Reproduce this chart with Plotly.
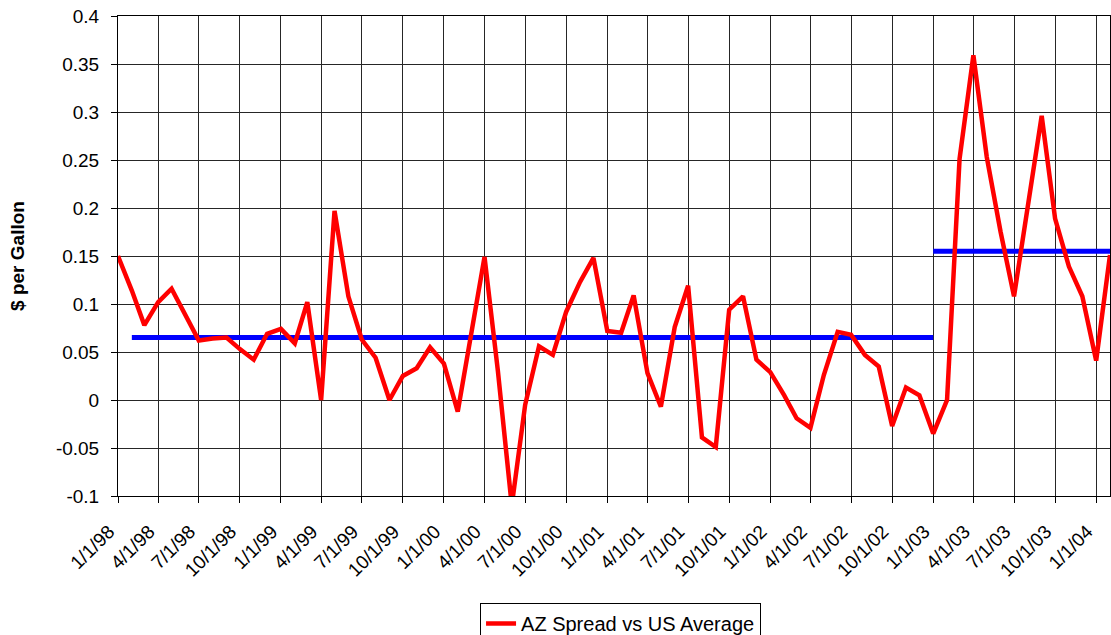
import plotly.graph_objects as go
import pandas as pd

# Monthly dates Jan 1998 .. Feb 2004
dates = pd.date_range("1998-01-01", "2004-02-01", freq="MS")

az_spread = [
    0.150, 0.114, 0.078, 0.102, 0.116, 0.089, 0.062, 0.064, 0.065, 0.053,
    0.042, 0.069, 0.074, 0.059, 0.102, 0.000, 0.197, 0.108, 0.063, 0.044,
    0.000, 0.025, 0.033, 0.055, 0.038, -0.012, 0.069, 0.149, 0.030, -0.110,
    -0.005, 0.056, 0.047, 0.092, 0.123, 0.148, 0.072, 0.070, 0.109, 0.028,
    -0.007, 0.076, 0.119, -0.039, -0.049, 0.094, 0.108, 0.042, 0.029, 0.005,
    -0.019, -0.029, 0.026, 0.071, 0.068, 0.047, 0.035, -0.027, 0.013, 0.005,
    -0.035, 0.000, 0.251, 0.359, 0.253, 0.175, 0.108, 0.200, 0.296, 0.189,
    0.139, 0.108, 0.041, 0.151,
]

avg1_dates = ["1998-02-01", "2003-01-01"]
avg1_vals = [0.065, 0.065]
avg2_dates = ["2003-01-01", "2004-02-01"]
avg2_vals = [0.155, 0.155]

x_tickvals = pd.date_range("1998-01-01", "2004-01-01", freq="QS")
x_ticktext = [f"{d.month}/1/{d.strftime('%y')}" for d in x_tickvals]

y_tickvals = [0.4, 0.35, 0.3, 0.25, 0.2, 0.15, 0.1, 0.05, 0, -0.05, -0.1]
y_ticktext = ["0.4", "0.35", "0.3", "0.25", "0.2", "0.15", "0.1", "0.05", "0", "-0.05", "-0.1"]

FONT = "Liberation Sans, Arial, sans-serif"
GRID = "#262626"

fig = go.Figure()
fig.add_trace(go.Scatter(
    x=avg1_dates, y=avg1_vals, mode="lines",
    line=dict(color="#0000FF", width=5), showlegend=False, hoverinfo="skip"))
fig.add_trace(go.Scatter(
    x=avg2_dates, y=avg2_vals, mode="lines",
    line=dict(color="#0000FF", width=5), showlegend=False, hoverinfo="skip"))
fig.add_trace(go.Scatter(
    x=dates, y=az_spread, mode="lines", name="AZ Spread vs US Average",
    line=dict(color="#FF0000", width=4.5)))

fig.update_layout(
    width=1111, height=635,
    margin=dict(l=118, r=1, t=16, b=139, autoexpand=False),
    paper_bgcolor="white", plot_bgcolor="white",
    font=dict(family=FONT, size=19, color="black"),
    showlegend=True,
    legend=dict(
        x=0.5066, xanchor="center", y=-0.2229, yanchor="top",
        bordercolor="black", borderwidth=1, bgcolor="white",
        font=dict(family=FONT, size=20, color="black"),
        itemwidth=30, tracegroupgap=0,
    ),
)
fig.update_xaxes(
    type="date",
    range=[dates[0], dates[-1]],
    tickmode="array", tickvals=x_tickvals, ticktext=x_ticktext,
    tickangle=-45,
    showgrid=True, gridcolor=GRID, gridwidth=1,
    showline=True, linecolor="black", linewidth=1, mirror=True,
    ticks="outside", ticklen=6, tickcolor="black",
    ticklabelstandoff=10, ticklabelshift=-9,
    zeroline=False, automargin=False,
    tickfont=dict(family=FONT, size=19, color="black"),
)
fig.update_yaxes(
    range=[-0.1, 0.4],
    tickmode="array", tickvals=y_tickvals, ticktext=y_ticktext,
    showgrid=True, gridcolor=GRID, gridwidth=1,
    showline=True, linecolor="black", linewidth=1, mirror=True,
    ticks="outside", ticklen=6, tickcolor="black",
    ticklabelstandoff=8,
    zeroline=False, automargin=False,
    tickfont=dict(family=FONT, size=19, color="black"),
    title=dict(text="<b>$ per Gallon</b>", standoff=26,
               font=dict(family=FONT, size=19, color="black")),
)

fig.write_html(
    "out.html",
    config={"displayModeBar": False},
    post_script="document.body.style.margin='0';document.body.style.overflow='hidden';",
)
